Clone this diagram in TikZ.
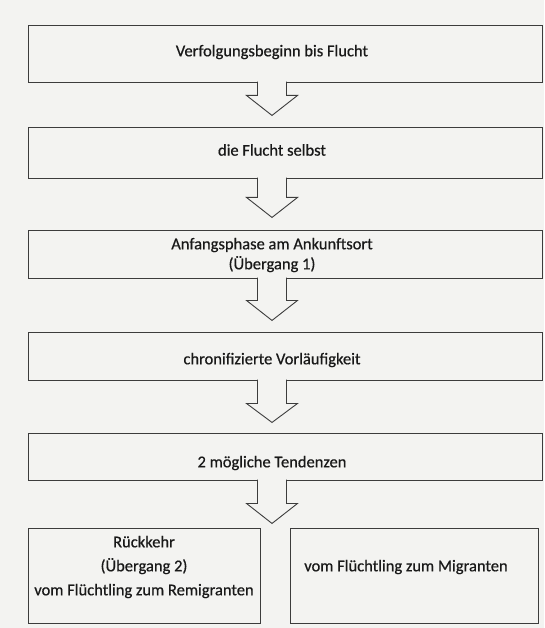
\documentclass[tikz,border=0pt]{standalone}
\usepackage{fontspec}
\setmainfont{Carlito}
\newfontfamily\phasefont[FakeBold=0.6]{Carlito}
\definecolor{paper}{RGB}{243,243,241}
\definecolor{ink}{RGB}{60,60,60}
\tikzset{
 phase/.style={draw=ink,line width=0.9pt,inner sep=0pt},
 phasetext/.style={font=\phasefont\fontsize{16.5}{20}\selectfont,align=center,text=black!90},
 hollow/.style={draw=ink,line width=0.9pt,fill=paper,line join=miter}
}
\begin{document}
\begin{tikzpicture}[x=1pt,y=-1pt]
 \fill[paper] (0,0) rectangle (544,628);
 \useasboundingbox (0,0) rectangle (544,628);
 \node[phase,minimum width=514pt,minimum height=57pt] (b1) at (285,53.5) {};
 \node[phase,minimum width=514pt,minimum height=51pt] (b2) at (285,152.5) {};
 \node[phase,minimum width=514pt,minimum height=48pt] (b3) at (285,254) {};
 \node[phase,minimum width=514pt,minimum height=48pt] (b4) at (285,356) {};
 \node[phase,minimum width=514pt,minimum height=47pt] (b5) at (285,456.5) {};
 \node[phase,minimum width=232pt,minimum height=95pt] (b6) at (144,575.5) {};
 \node[phase,minimum width=248pt,minimum height=95pt] (b7) at (414,575.5) {};
 \node[phasetext] (t1) at (272,52) {Verfolgungsbeginn bis Flucht};
 \node[phasetext] (t2) at (272,150) {die Flucht selbst};
 \node[phasetext] (t3) at (272,255) {Anfangsphase am Ankunftsort\\(Übergang 1)};
 \node[phasetext] (t4) at (272,360) {chronifizierte Vorläufigkeit};
 \node[phasetext] (t5) at (272,463) {2 mögliche Tendenzen};
 \node[phasetext,font=\phasefont\fontsize{16.5}{24}\selectfont] (t6) at (144,567) {Rückkehr\\(Übergang 2)\\vom Flüchtling zum Remigranten};
 \node[phasetext] (t7) at (406,567) {vom Flüchtling zum Migranten};
 \coordinate (a1) at (t1 |- b1.south);
 \coordinate (a2) at (t2 |- b2.south);
 \coordinate (a3) at (t3 |- b3.south);
 \coordinate (a4) at (t4 |- b4.south);
 \coordinate (a5) at (t5 |- b5.south);
 \draw[hollow] ([xshift=-14.5pt,yshift=0.8pt]a1) -- ++(0,13.8) -- ++(-11,0) -- ++(25.5,20) -- ++(25.5,-20) -- ++(-11,0) -- ++(0,-13.8);
 \draw[hollow] ([xshift=-14.5pt,yshift=0.8pt]a2) -- ++(0,19.8) -- ++(-11,0) -- ++(25.5,20) -- ++(25.5,-20) -- ++(-11,0) -- ++(0,-19.8);
 \draw[hollow] ([xshift=-14.5pt,yshift=0.8pt]a3) -- ++(0,22.8) -- ++(-11,0) -- ++(25.5,20) -- ++(25.5,-20) -- ++(-11,0) -- ++(0,-22.8);
 \draw[hollow] ([xshift=-14.5pt,yshift=0.8pt]a4) -- ++(0,23.8) -- ++(-11,0) -- ++(25.5,19) -- ++(25.5,-19) -- ++(-11,0) -- ++(0,-23.8);
 \draw[hollow] ([xshift=-14.5pt,yshift=0.8pt]a5) -- ++(0,23.8) -- ++(-11,0) -- ++(25.5,20) -- ++(25.5,-20) -- ++(-11,0) -- ++(0,-23.8);
\end{tikzpicture}
\end{document}
